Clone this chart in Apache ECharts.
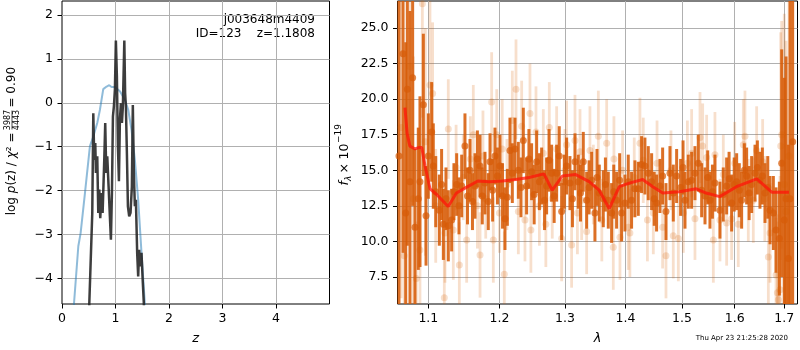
<!DOCTYPE html>
<html>
<head>
<meta charset="utf-8">
<script src="https://cdn.jsdelivr.net/npm/echarts@6.0.0/dist/echarts.min.js"></script>
<style>
html, body { margin: 0; padding: 0; background: #fff; }
#chart { width: 800px; height: 350px; }
</style>
</head>
<body>
<div id="chart"></div>
<script>
// ---- p(z) panel ----
const pzPriorZ = [0.20, 0.224, 0.305, 0.348, 0.429, 0.522, 0.585, 0.659, 0.709, 0.771, 0.834, 0.883, 0.927, 0.989, 1.082, 1.175, 1.238, 1.30, 1.362, 1.424, 1.486, 1.549, 1.57];
const pzPriorLogp = [-5.2, -4.58, -3.27, -2.97, -2.06, -0.99, -0.77, -0.46, -0.16, 0.31, 0.37, 0.40, 0.36, 0.36, 0.26, 0.07, -0.16, -0.62, -1.30, -2.21, -3.42, -4.58, -5.2];

const pzFitZ = [0.50, 0.51, 0.529, 0.566, 0.585, 0.603, 0.622, 0.634, 0.659, 0.678,
  0.697, 0.715, 0.74, 0.759, 0.79, 0.808, 0.827, 0.846, 0.871, 0.895,
  0.914, 0.933, 0.952, 0.97, 0.989, 1.007, 1.026, 1.045, 1.064, 1.082,
  1.101, 1.12, 1.138, 1.165, 1.18, 1.194, 1.213, 1.232, 1.256, 1.281,
  1.306, 1.324, 1.343, 1.362, 1.381, 1.405, 1.424, 1.442, 1.461, 1.486,
  1.505, 1.53, 1.54];
const pzFitLogp = [-5.5, -4.58, -3.88, -2.51, -0.24, -1.30, -0.92, -1.60, -1.22, -2.51,
  -1.98, -2.63, -2.06, -2.51, -1.30, -0.46, -1.60, -1.22, -1.91, -2.59,
  -3.12, -2.06, -0.31, -0.08, 0.30, 1.42, 0.60, -0.99, -1.79, -0.39,
  -0.01, -0.46, -0.08, 1.42, 0.22, -0.08, -1.15, -2.36, -2.59, -2.51,
  -1.91, -0.05, -1.60, -2.36, -2.21, -3.42, -3.96, -3.35, -3.73, -3.42,
  -3.96, -4.58, -5.5];

const pzYTicks = [-4, -3, -2, -1, 0, 1, 2];

// ---- spectrum panel (wavelength in micron, flux x 1e-19) ----
const specWave = [1.0612, 1.0665, 1.0700, 1.0721, 1.0756, 1.0791, 1.0822, 1.0866, 1.0888, 1.0933,
  1.0969, 1.1000, 1.1045, 1.1067, 1.1100, 1.1149, 1.1180, 1.1204, 1.1240, 1.1272,
  1.1318, 1.1350, 1.1388, 1.1420, 1.1458, 1.1504, 1.1540, 1.1575, 1.1610, 1.1646,
  1.1680, 1.1718, 1.1750, 1.1789, 1.1837, 1.1862, 1.1900, 1.1934, 1.1970, 1.2007,
  1.2045, 1.2081, 1.2116, 1.2155, 1.2190, 1.2230, 1.2280, 1.2320, 1.2355, 1.2405,
  1.2440, 1.2481, 1.2520, 1.2558, 1.2600, 1.2635, 1.2680, 1.2712, 1.2750, 1.2790,
  1.2830, 1.2869, 1.2910, 1.2948, 1.2990, 1.3027, 1.3080, 1.3120, 1.3161, 1.3214,
  1.3250, 1.3295, 1.3350, 1.3390, 1.3432, 1.3486, 1.3520, 1.3558, 1.3624, 1.3660,
  1.3708, 1.3764, 1.3800, 1.3848, 1.3900, 1.3933, 1.3990, 1.4047, 1.4104, 1.4162,
  1.4220, 1.4278, 1.4336, 1.4395, 1.4454, 1.4500, 1.4542, 1.4602, 1.4650, 1.4710,
  1.4782, 1.4842, 1.4903, 1.4976, 1.5020, 1.5056, 1.5117, 1.5179, 1.5241, 1.5303,
  1.5366, 1.5429, 1.5480, 1.5523, 1.5570, 1.5618, 1.5714, 1.5778, 1.5843, 1.5890,
  1.5940, 1.5990, 1.6038, 1.6090, 1.6136, 1.6190, 1.6235, 1.6285, 1.6335, 1.6402,
  1.6450, 1.6502, 1.6550, 1.6604, 1.6660, 1.6706, 1.6774, 1.6829, 1.6898, 1.6946,
  1.7000, 1.7036, 1.7085, 1.7120, 1.7175];
const specFlux = [16.0, 23.2, 12.0, 20.7, 14.2, 21.5, 11.0, 13.0, 14.2, 19.6,
  11.8, 16.0, 17.7, 15.3, 13.5, 12.2, 14.0, 11.2, 13.0, 11.1,
  11.5, 13.5, 14.0, 12.5, 13.9, 16.7, 13.2, 15.0, 12.8, 13.9,
  15.8, 15.3, 13.2, 14.1, 12.8, 15.6, 13.6, 16.0, 14.6, 15.3,
  13.2, 11.6, 13.1, 16.4, 14.8, 16.5, 15.0, 13.8, 17.1, 13.9,
  15.8, 14.9, 13.3, 15.6, 14.2, 14.6, 12.9, 13.9, 15.7, 14.8,
  13.2, 14.8, 16.0, 12.1, 14.2, 15.3, 14.1, 13.0, 15.6, 14.2,
  13.4, 15.6, 12.9, 13.8, 14.3, 12.0, 14.5, 13.4, 13.0, 14.0,
  12.9, 12.0, 13.5, 12.9, 14.3, 12.0, 12.7, 14.2, 12.9, 13.7,
  13.7, 15.4, 15.3, 14.8, 14.2, 13.0, 12.7, 13.9, 14.6, 12.1,
  14.8, 13.4, 14.6, 13.8, 15.2, 12.9, 14.2, 14.3, 14.8, 15.5,
  13.6, 13.2, 14.5, 12.9, 13.5, 14.1, 12.2, 13.3, 13.9, 14.4,
  12.7, 14.0, 14.2, 13.6, 12.9, 15.0, 14.6, 13.4, 14.0, 14.8,
  15.2, 14.3, 14.6, 13.4, 13.8, 12.2, 12.0, 10.8, 10.2, 15.5,
  11.5, 13.0, 8.8, 13.0, 17.0];
const specErr = [16, 14, 12, 11, 12, 9, 5.5, 5, 6, 5,
  3.5, 3, 3.5, 3, 2.5, 2.5, 2.5, 2.5, 2.2, 2.5,
  2.2, 2.0, 2.2, 2.0, 2.2, 2.3, 2.0, 2.2, 2.0, 2.3,
  2.0, 2.2, 2.0, 2.2, 2.0, 2.0, 2.2, 2.0, 2.0, 2.2,
  2.3, 2.2, 2.0, 2.3, 2.1, 2.2, 2.0, 2.1, 2.3, 2.0,
  2.1, 2.0, 2.1, 2.2, 2.0, 2.0, 2.1, 2.0, 2.2, 2.0,
  1.9, 2.0, 2.1, 2.0, 1.9, 2.0, 1.9, 2.0, 2.0, 1.9,
  2.0, 2.1, 2.0, 1.9, 2.0, 2.0, 2.0, 2.0, 2.0, 1.9,
  2.0, 2.1, 1.9, 2.0, 1.9, 2.0, 2.0, 1.9, 2.0, 2.0,
  1.9, 2.0, 2.0, 1.9, 2.0, 1.9, 2.0, 1.9, 2.0, 2.0,
  1.9, 2.0, 1.9, 2.0, 1.9, 2.0, 1.9, 2.0, 1.9, 2.0,
  1.9, 2.0, 1.9, 2.0, 1.9, 2.0, 2.0, 1.9, 2.0, 1.9,
  2.0, 1.9, 2.0, 1.9, 2.0, 1.9, 2.0, 1.9, 2.0, 2.0,
  1.9, 2.0, 2.0, 2.1, 2.2, 2.4, 2.6, 3.0, 4.0, 8.0,
  10, 10, 8, 14, 14];

// low-weight points (drawn faint)
const faintWave = [1.0640, 1.0680, 1.0756, 1.0800, 1.0840, 1.0888, 1.0920, 1.0960, 1.1022, 1.1058,
  1.1100, 1.1217, 1.1227, 1.1272, 1.1341, 1.1380, 1.1425, 1.1480, 1.1528, 1.1580,
  1.1622, 1.1680, 1.1718, 1.1760, 1.1800, 1.1886, 1.1910, 1.1960, 1.2000, 1.2040,
  1.2071, 1.2110, 1.2190, 1.2245, 1.2280, 1.2330, 1.2380, 1.2456, 1.2470, 1.2548,
  1.2600, 1.2661, 1.2700, 1.2754, 1.2800, 1.2869, 1.2948, 1.3000, 1.3027, 1.3107,
  1.3161, 1.3200, 1.3242, 1.3269, 1.3350, 1.3404, 1.3460, 1.3542, 1.3600, 1.3681,
  1.3792, 1.3803, 1.3905, 1.3950, 1.4047, 1.4075, 1.4150, 1.4249, 1.4307, 1.4380,
  1.4484, 1.4550, 1.4650, 1.4710, 1.4800, 1.4842, 1.4934, 1.5026, 1.5100, 1.5179,
  1.5241, 1.5335, 1.5385, 1.5460, 1.5587, 1.5618, 1.5714, 1.5778, 1.5843, 1.5940,
  1.6000, 1.6070, 1.6169, 1.6202, 1.6268, 1.6368, 1.6435, 1.6556, 1.6600, 1.6672,
  1.6706, 1.6829, 1.6857, 1.6877, 1.6912, 1.6926, 1.6946, 1.7000, 1.7036, 1.7100];
const faintFlux = [18.0, 9.0, 22.3, 13.0, 7.4, 9.4, 26.7, 17.0, 21.0, 20.4,
  12.5, 6.05, 10.6, 17.9, 10.8, 15.2, 8.35, 14.5, 10.1, 15.8,
  17.5, 12.5, 9.05, 16.0, 13.0, 19.8, 10.1, 17.5, 12.0, 16.5,
  7.7, 14.0, 18.5, 20.7, 12.1, 18.1, 11.5, 19.0, 10.8, 17.7,
  12.5, 16.2, 11.2, 18.0, 13.0, 16.5, 10.2, 15.0, 16.8, 9.75,
  17.1, 12.0, 16.3, 12.9, 10.7, 16.4, 14.0, 17.4, 11.5, 16.9,
  9.6, 15.8, 10.3, 15.0, 11.0, 10.6, 14.5, 16.9, 15.7, 11.5,
  12.0, 15.5, 11.0, 9.0, 15.0, 10.4, 10.2, 12.0, 15.5, 16.2,
  11.6, 17.3, 16.7, 15.9, 10.1, 16.1, 11.5, 14.7, 11.3, 11.6,
  15.5, 11.2, 16.8, 17.4, 12.9, 12.9, 16.4, 15.6, 13.0, 8.9,
  10.6, 7.65, 6.4, 5.9, 6.6, 16.7, 17.5, 14.0, 12.1, 16.0];
const faintErr = [12, 6, 8, 10, 4, 5, 8, 8, 6, 5,
  4, 4, 3.5, 3.5, 3.5, 3, 3, 3, 3, 3,
  3.5, 3, 3, 3.2, 2.8, 3.5, 3, 3.2, 2.8, 3.5,
  3, 3.2, 3.5, 3.5, 3, 3.2, 2.9, 3.5, 3, 3.2,
  2.8, 3.1, 3, 3.2, 2.8, 3, 3, 2.9, 3.1, 3,
  3.2, 2.9, 3, 2.8, 3, 3.1, 2.8, 3.2, 2.9, 3.1,
  3, 3, 3, 2.8, 3, 3.1, 2.8, 3.2, 3, 2.9,
  2.9, 3, 2.9, 3, 2.8, 3, 3, 2.8, 3, 3.1,
  2.9, 3.2, 3, 3, 3, 3, 2.9, 2.8, 3, 2.9,
  2.9, 3, 3.2, 3.2, 2.9, 3, 3.1, 3, 3, 3.5,
  3.5, 4, 5, 6, 8, 8, 8, 12, 12, 12];

// best-fit template
const modelWave = [1.0690, 1.0718, 1.0755, 1.0822, 1.0870, 1.0912, 1.0956, 1.1023, 1.1113, 1.1270,
  1.1385, 1.1523, 1.1686, 1.1852, 1.2044, 1.2241, 1.2441, 1.2671, 1.2800, 1.2959,
  1.3173, 1.3390, 1.3556, 1.3724, 1.3894, 1.4065, 1.4297, 1.4474, 1.4653, 1.4955,
  1.5264, 1.5452, 1.5708, 1.6035, 1.6437, 1.6747, 1.7097];
const modelFlux = [19.4, 17.6, 16.7, 16.5, 16.6, 16.6, 15.3, 13.7, 13.3, 12.45,
  13.4, 13.8, 14.25, 14.2, 14.25, 14.35, 14.5, 14.75, 13.6, 14.6,
  14.7, 14.2, 13.6, 12.3, 13.85, 14.1, 14.35, 13.85, 13.4, 13.5,
  13.7, 13.4, 13.15, 13.85, 14.4, 13.45, 13.45];

const waveTicks = [1.1, 1.2, 1.3, 1.4, 1.5, 1.6, 1.7];
const fluxTicks = [7.5, 10.0, 12.5, 15.0, 17.5, 20.0, 22.5, 25.0];

const FONT = 'DejaVu Sans';
const chart = echarts.init(document.getElementById('chart'));

// wavelength axis is logarithmic, so plot log10(lambda)
const lg = Math.log10;
const pairs = (xs, ys) => xs.map((x, i) => [x, ys[i]]);
const triples = (xs, ys, es) => xs.map((x, i) => [lg(x), ys[i], es[i]]);

function errorBars(color, w) {
  return function (params, api) {
    const x = api.value(0), y = api.value(1), e = api.value(2);
    const top = api.coord([x, y + e]);
    const bot = api.coord([x, y - e]);
    const cs = params.coordSys;
    const shape = echarts.graphic.clipRectByRect(
      { x: top[0] - w / 2, y: top[1], width: w, height: bot[1] - top[1] },
      { x: cs.x, y: cs.y, width: cs.width, height: cs.height });
    return shape && { type: 'rect', shape: shape, style: { fill: color } };
  };
}

const minus = v => (v < 0 ? '\u2212' : '') + Math.abs(v);
const tickLabel = { fontSize: 12.5, fontFamily: FONT, color: '#000' };
const grid = { lineStyle: { color: '#b0b0b0', width: 1 } };
const tick = { length: 4.5, lineStyle: { color: '#000', width: 1 } };
const noLine = { show: false, onZero: false };

const option = {
  animation: false,
  backgroundColor: '#fff',
  grid: [
    { left: 62, top: 1, width: 267.5, height: 303, show: true, borderColor: '#000', borderWidth: 1, backgroundColor: 'transparent' },
    { left: 397.5, top: 1, width: 400, height: 303, show: true, borderColor: '#000', borderWidth: 1, backgroundColor: 'transparent' }
  ],
  xAxis: [
    {
      gridIndex: 0, type: 'value', min: 0, max: 5, interval: 1,
      axisLine: noLine,
      axisTick: tick,
      axisLabel: Object.assign({ margin: 8, showMaxLabel: false }, tickLabel),
      splitLine: Object.assign({ show: true, showMinLine: false, showMaxLine: false }, grid),
      name: 'z', nameLocation: 'middle', nameGap: 28,
      nameTextStyle: { fontSize: 13, fontFamily: FONT, fontStyle: 'italic', color: '#000' }
    },
    {
      gridIndex: 1, type: 'value', min: lg(1.0593), max: lg(1.7277),
      axisLine: noLine,
      axisTick: Object.assign({ customValues: waveTicks.map(lg) }, tick),
      axisLabel: Object.assign({
        customValues: waveTicks.map(lg), margin: 8,
        formatter: v => Math.pow(10, v).toFixed(1)
      }, tickLabel),
      splitLine: Object.assign({ show: true }, grid),
      name: '\u03bb', nameLocation: 'middle', nameGap: 28,
      nameTextStyle: { fontSize: 13, fontFamily: FONT, fontStyle: 'italic', color: '#000' }
    }
  ],
  yAxis: [
    {
      gridIndex: 0, type: 'value', min: -4.586, max: 2.319,
      axisLine: noLine,
      axisTick: Object.assign({ customValues: pzYTicks }, tick),
      axisLabel: Object.assign({ customValues: pzYTicks, margin: 9, formatter: minus }, tickLabel),
      splitLine: Object.assign({ show: true }, grid)
    },
    {
      gridIndex: 1, type: 'value', min: 5.603, max: 26.9,
      axisLine: noLine,
      axisTick: Object.assign({ customValues: fluxTicks }, tick),
      axisLabel: Object.assign({ customValues: fluxTicks, margin: 9, formatter: v => v.toFixed(1) }, tickLabel),
      splitLine: Object.assign({ show: true }, grid)
    }
  ],
  series: [
    {
      type: 'line', xAxisIndex: 0, yAxisIndex: 0, data: pairs(pzPriorZ, pzPriorLogp),
      showSymbol: false, clip: true,
      lineStyle: { color: 'rgba(31,119,180,0.5)', width: 2 }
    },
    {
      type: 'line', xAxisIndex: 0, yAxisIndex: 0, data: pairs(pzFitZ, pzFitLogp),
      showSymbol: false, clip: true,
      lineStyle: { color: 'rgba(40,40,40,0.9)', width: 2.5 }
    },
    {
      type: 'custom', xAxisIndex: 1, yAxisIndex: 1,
      data: triples(faintWave, faintFlux, faintErr),
      renderItem: errorBars('rgba(217,95,2,0.2)', 2.8)
    },
    {
      type: 'scatter', xAxisIndex: 1, yAxisIndex: 1,
      data: triples(faintWave, faintFlux, faintErr).map(d => [d[0], d[1]]),
      symbolSize: 7, clip: true,
      itemStyle: { color: 'rgba(217,95,2,0.25)' }
    },
    {
      type: 'custom', xAxisIndex: 1, yAxisIndex: 1,
      data: triples(specWave, specFlux, specErr),
      renderItem: errorBars('rgba(215,92,8,0.88)', 3)
    },
    {
      type: 'scatter', xAxisIndex: 1, yAxisIndex: 1,
      data: triples(specWave, specFlux, specErr).map(d => [d[0], d[1]]),
      symbolSize: 7, clip: true,
      itemStyle: { color: 'rgba(215,92,8,0.9)' }
    },
    {
      type: 'line', xAxisIndex: 1, yAxisIndex: 1,
      data: modelWave.map((w, i) => [lg(w), modelFlux[i]]),
      showSymbol: false, clip: true,
      lineStyle: { color: 'rgba(255,20,10,0.75)', width: 3 }
    }
  ],
  graphic: [
    {
      type: 'text', x: 315, y: 20,
      style: { text: 'j003648m4409', fontSize: 12, fontFamily: FONT, fill: '#000', align: 'right', verticalAlign: 'middle' }
    },
    {
      type: 'text', x: 315, y: 34,
      style: { text: 'ID=123    z=1.1808', fontSize: 12, fontFamily: FONT, fill: '#000', align: 'right', verticalAlign: 'middle' }
    },
    {
      type: 'group', x: 12, y: 161, rotation: Math.PI / 2,
      children: [
        {
          type: 'text', x: 28.5, y: 0,
          style: {
            text: '{n|log }{i|p}{n|(z) / }{i|\u03c7}{n|\u00b2 =}',
            align: 'right', verticalAlign: 'middle', fill: '#000',
            rich: {
              n: { fontSize: 12, fontFamily: FONT },
              i: { fontSize: 12, fontFamily: FONT, fontStyle: 'italic' }
            }
          }
        },
        { type: 'text', x: 41, y: -4.5, style: { text: '3987', fontSize: 8, fontFamily: FONT, fill: '#000', align: 'center', verticalAlign: 'middle' } },
        { type: 'line', shape: { x1: 31.5, y1: 0, x2: 50.5, y2: 0 }, style: { stroke: '#000', lineWidth: 0.7 } },
        { type: 'text', x: 41, y: 4.5, style: { text: '4443', fontSize: 8, fontFamily: FONT, fill: '#000', align: 'center', verticalAlign: 'middle' } },
        { type: 'text', x: 53.5, y: 0, style: { text: '= 0.90', fontSize: 12, fontFamily: FONT, fill: '#000', align: 'left', verticalAlign: 'middle' } }
      ]
    },
    {
      type: 'group', x: 345, y: 152.5, rotation: Math.PI / 2,
      children: [
        { type: 'text', x: -33, y: 0, style: { text: 'f', fontSize: 12.5, fontFamily: FONT, fontStyle: 'italic', fill: '#000', align: 'left', verticalAlign: 'middle' } },
        { type: 'text', x: -28.5, y: 4, style: { text: '\u03bb', fontSize: 9, fontFamily: FONT, fontStyle: 'italic', fill: '#000', align: 'left', verticalAlign: 'middle' } },
        { type: 'text', x: -21, y: 0, style: { text: '\u00d7', fontSize: 12.5, fontFamily: FONT, fill: '#000', align: 'left', verticalAlign: 'middle' } },
        { type: 'text', x: -7, y: 0, style: { text: '10', fontSize: 12.5, fontFamily: FONT, fill: '#000', align: 'left', verticalAlign: 'middle' } },
        { type: 'text', x: 9.5, y: -6, style: { text: '\u221219', fontSize: 9, fontFamily: FONT, fill: '#000', align: 'left', verticalAlign: 'middle' } }
      ]
    },
    {
      type: 'text', x: 788, y: 338,
      style: { text: 'Thu Apr 23 21:25:28 2020', fontSize: 7, fontFamily: FONT, fill: '#000', align: 'right', verticalAlign: 'middle' }
    }
  ]
};

chart.setOption(option);
</script>
</body>
</html>
